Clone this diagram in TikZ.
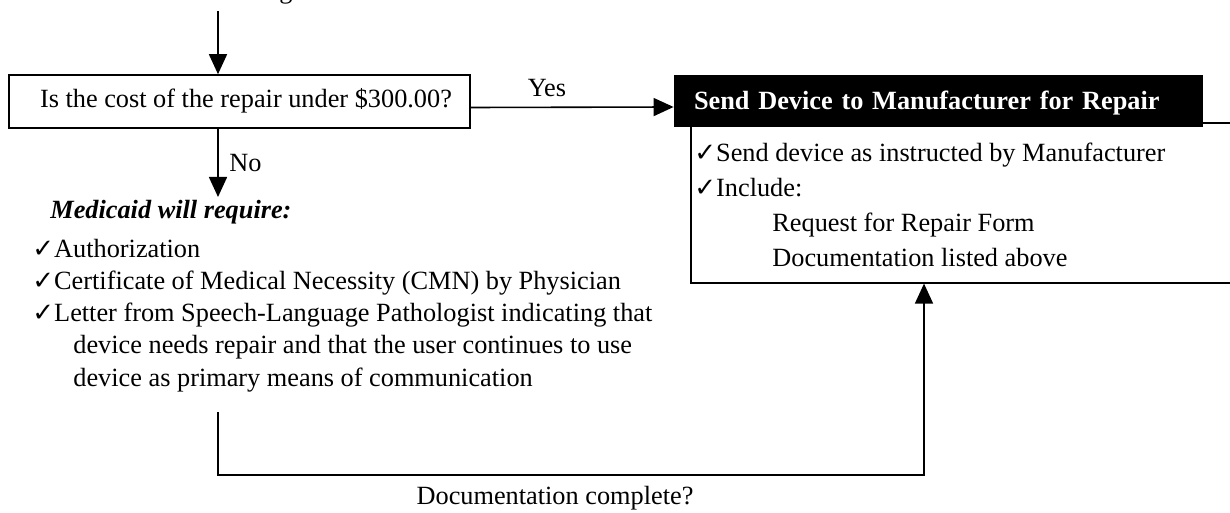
\documentclass[tikz,border=0pt]{standalone}
\usepackage{fontspec}
\setmainfont{Liberation Serif}
\newfontfamily\symfont{DejaVu Sans}
\usetikzlibrary{arrows.meta}
\newcommand\bodysize{\fontsize{13.15pt}{16pt}\selectfont}
\newcommand\chkmark{{\symfont\fontsize{13pt}{10pt}\selectfont ✓}}

\begin{document}
\begin{tikzpicture}[x=0.5pt,y=-0.5pt,
  every node/.style={font=\bodysize},
  ln/.style={line width=0.8pt},
  arr/.style={ln,-{Triangle[length=10pt,width=9pt]}},
  txt/.style={inner sep=0pt,anchor=base west},
  ctxt/.style={inner sep=0pt,anchor=base},
  qbox/.style={draw,ln,minimum width=230.5pt,minimum height=26.5pt,inner sep=0pt,
    text height=0.85em,text depth=0.2em},
  headbox/.style={fill=black,text=white,font=\bodysize\bfseries,minimum width=264.5pt,
    minimum height=26pt,text width=244.5pt,inner xsep=10pt,inner ysep=0pt,align=left,
    text height=0.95em,text depth=0.11em},
  bodybox/.style={draw,ln,minimum width=280pt,minimum height=80pt,inner sep=0pt,anchor=north west}]

\path[use as bounding box,clip] (0,0) rectangle (1230,513);

% tail of the line above
\node[ctxt] (above) at (286,-1) {g};

% question box
\node[qbox] (q) at (239.5,101.5) {\hspace*{6.5pt}Is the cost of the repair under \$300.00?};
\coordinate (topin) at (218,11);
\draw[arr] (topin) -- (topin |- q.north);

% manufacturer repair box
\node[bodybox] (body) at (690,122) {};
\node[headbox] (send) at (938.5,101) {Send Device to Manufacturer for Repair};
\draw[arr] ([yshift=-3pt]q.east) -- ([yshift=-3pt]send.west);
\node[ctxt] (yes) at (547,97) {Yes};

\node[txt] (r1) at (694,162) {\chkmark Send device as instructed by Manufacturer};
\node[txt] (r2) at (694,197) {\chkmark Include:};
\node[txt] (r3) at (772,232) {Request for Repair Form};
\node[txt] (r4) at (772,266) {Documentation listed above};

% "No" branch
\coordinate (noend) at (218,197);
\draw[arr] (q.south -| noend) -- (noend);
\node[txt] (no) at (229,172) {No};

\node[txt] (m0) at (50,219) {\textbf{\textit{Medicaid will require:}}};
\node[txt] (m1) at (32,257) {\chkmark Authorization};
\node[txt] (m2) at (32,289) {\chkmark Certificate of Medical Necessity (CMN) by Physician};
\node[txt] (m3) at (32,321) {\chkmark Letter from Speech-Language Pathologist indicating that};
\node[txt] (m4) at (73,353) {device needs repair and that the user continues to use};
\node[txt] (m5) at (73,386) {device as primary means of communication};

% return path once documentation is complete
\coordinate (docin) at (218,412);
\coordinate (docturn) at (924,475);
\draw[arr] (docin) |- (docturn) -- (docturn |- body.south);
\node[ctxt] (doc) at (555,504) {Documentation complete?};

\end{tikzpicture}
\end{document}
